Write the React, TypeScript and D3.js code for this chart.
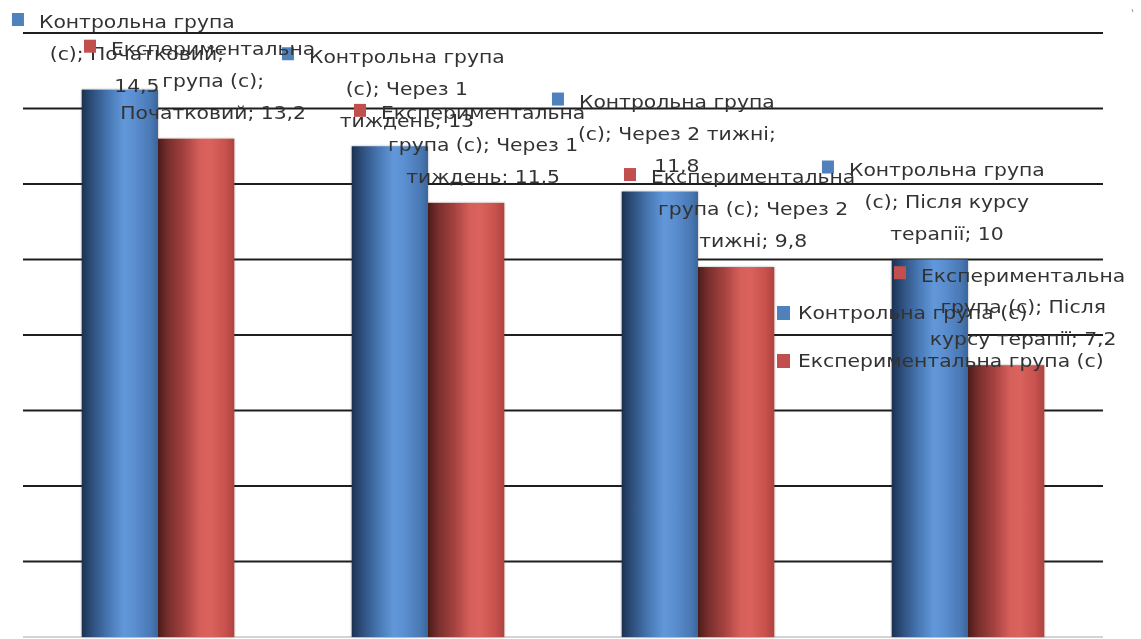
import React, { useEffect, useRef } from "react";
import * as d3 from "d3";

const W = 1141;
const H = 639;

const categories = ["Початковий", "Через 1 тиждень", "Через 2 тижні", "Після курсу терапії"];
const seriesNames = ["Контрольна група (с)", "Експериментальна група (с)"];
const controlValues = [14.5, 13, 11.8, 10];
const experimentalValues = [13.2, 11.5, 9.8, 7.2];
const yTicks = [0, 2, 4, 6, 8, 10, 12, 14, 16];

// words per wrapped line of each data label, [series][category]
const labelWraps = [
  [[2, 2, 1], [2, 3, 2], [2, 4, 1], [2, 3, 2]],
  [[1, 2, 2], [1, 4, 2], [1, 4, 2], [1, 3, 3]],
];

const seriesColors = ["#4f81bd", "#c0504d"];
const textColor = "#333333";
const FONT = "'DejaVu Sans', Verdana, sans-serif";
const FONT_SIZE = 18;
const STRETCH = 1.13;

const fmt = (v: number) => String(v).replace(".", ",");

export default function App() {
  const ref = useRef<SVGSVGElement | null>(null);

  useEffect(() => {
    const svg = d3.select(ref.current);
    svg.selectAll("*").remove();

    const left = 23;
    const right = 1103;
    const y = d3.scaleLinear().domain([0, 16]).range([637, 33]);
    const x0 = d3
      .scaleBand<string>()
      .domain(categories)
      .range([left, right])
      .paddingInner(0.435)
      .paddingOuter(0.2175);
    const x1 = d3
      .scaleBand<number>()
      .domain([0, 1])
      .range([0, x0.bandwidth()]);

    const defs = svg.append("defs");
    const gradStops = [
      [
        [0, "#1c3150"],
        [0.12, "#2b4c78"],
        [0.35, "#4877b3"],
        [0.55, "#6198d9"],
        [0.7, "#5a8ecf"],
        [0.9, "#4a79b5"],
        [1, "#3b659b"],
      ],
      [
        [0, "#4c1b1b"],
        [0.12, "#742d2b"],
        [0.35, "#a64341"],
        [0.55, "#d65f5a"],
        [0.68, "#db635e"],
        [0.88, "#c8524d"],
        [1, "#ad4440"],
      ],
    ];
    gradStops.forEach((stops, i) => {
      const g = defs
        .append("linearGradient")
        .attr("id", `bar-grad-${i}`)
        .attr("x1", "0")
        .attr("x2", "1")
        .attr("y1", "0")
        .attr("y2", "0");
      stops.forEach(([o, c]) => g.append("stop").attr("offset", o as number).attr("stop-color", c as string));
    });
    const shadow = defs.append("filter").attr("id", "bar-shadow").attr("x", "-10%").attr("width", "120%");
    shadow
      .append("feDropShadow")
      .attr("dx", 0)
      .attr("dy", 0)
      .attr("stdDeviation", 1.2)
      .attr("flood-color", "#000")
      .attr("flood-opacity", 0.35);
    const textBlur = defs.append("filter").attr("id", "soft");
    textBlur.append("feGaussianBlur").attr("stdDeviation", 0.4);

    // gridlines
    const grid = svg.append("g");
    grid
      .selectAll("line")
      .data(yTicks)
      .join("line")
      .attr("x1", left)
      .attr("x2", right)
      .attr("y1", (d) => y(d))
      .attr("y2", (d) => y(d))
      .attr("stroke", (d) => (d === 0 ? "#d4d4d4" : "#1e1e1e"))
      .attr("stroke-width", 2);

    // bars
    const seriesData = [controlValues, experimentalValues];
    const bars = svg.append("g").attr("filter", "url(#bar-shadow)");
    seriesData.forEach((vals, s) => {
      bars
        .append("g")
        .selectAll("rect")
        .data(vals)
        .join("rect")
        .attr("x", (_, i) => (x0(categories[i]) as number) + (x1(s) as number))
        .attr("width", x1.bandwidth())
        .attr("y", (d) => y(d))
        .attr("height", (d) => y(0) - y(d))
        .attr("fill", `url(#bar-grad-${s})`);
    });

    // data labels: series; category; value, wrapped, with legend key
    const labels = svg.append("g").attr("filter", "url(#soft)");
    const lineGap = 32;
    seriesData.forEach((vals, s) => {
      vals.forEach((v, i) => {
        const words = `${seriesNames[s]}; ${categories[i]}; ${fmt(v)}`.split(" ");
        const lines: string[] = [];
        let k = 0;
        labelWraps[s][i].forEach((n) => {
          lines.push(words.slice(k, k + n).join(" "));
          k += n;
        });
        const cx = (x0(categories[i]) as number) + (x1(s) as number) + x1.bandwidth() / 2 + 17;
        const top = Math.max(22, y(v) - 90);
        const g = labels.append("g").attr("transform", `translate(${cx},${top}) scale(${STRETCH},1)`);
        const texts = g
          .selectAll("text")
          .data(lines)
          .join("text")
          .attr("x", 0)
          .attr("y", (_, j) => j * lineGap)
          .attr("dy", "0.35em")
          .attr("text-anchor", "middle")
          .attr("font-family", FONT)
          .attr("font-size", FONT_SIZE)
          .attr("fill", textColor)
          .text((d) => d);
        const first = texts.nodes()[0] as SVGTextElement;
        const w0 = first.getComputedTextLength();
        g.append("rect")
          .attr("x", -w0 / 2 - 15 / STRETCH - 12 / STRETCH)
          .attr("y", -9)
          .attr("width", 12 / STRETCH)
          .attr("height", 13)
          .attr("fill", seriesColors[s]);
      });
    });

    // legend
    const legend = svg.append("g").attr("filter", "url(#soft)");
    seriesNames.forEach((name, s) => {
      const gy = 313 + s * 48;
      legend
        .append("rect")
        .attr("x", 777)
        .attr("y", gy - 7)
        .attr("width", 13)
        .attr("height", 14)
        .attr("fill", seriesColors[s]);
      legend
        .append("g")
        .attr("transform", `translate(798,${gy}) scale(${STRETCH},1)`)
        .append("text")
        .attr("dy", "0.35em")
        .attr("font-family", FONT)
        .attr("font-size", FONT_SIZE)
        .attr("fill", textColor)
        .text(name);
    });

    svg
      .append("line")
      .attr("x1", 1132)
      .attr("x2", 1133)
      .attr("y1", 9)
      .attr("y2", 12)
      .attr("stroke", "#999")
      .attr("stroke-width", 1);
  }, []);

  return (
    <svg
      ref={ref}
      width={W}
      height={H}
      style={{ position: "absolute", left: 0, top: 0, background: "#fff" }}
    />
  );
}
